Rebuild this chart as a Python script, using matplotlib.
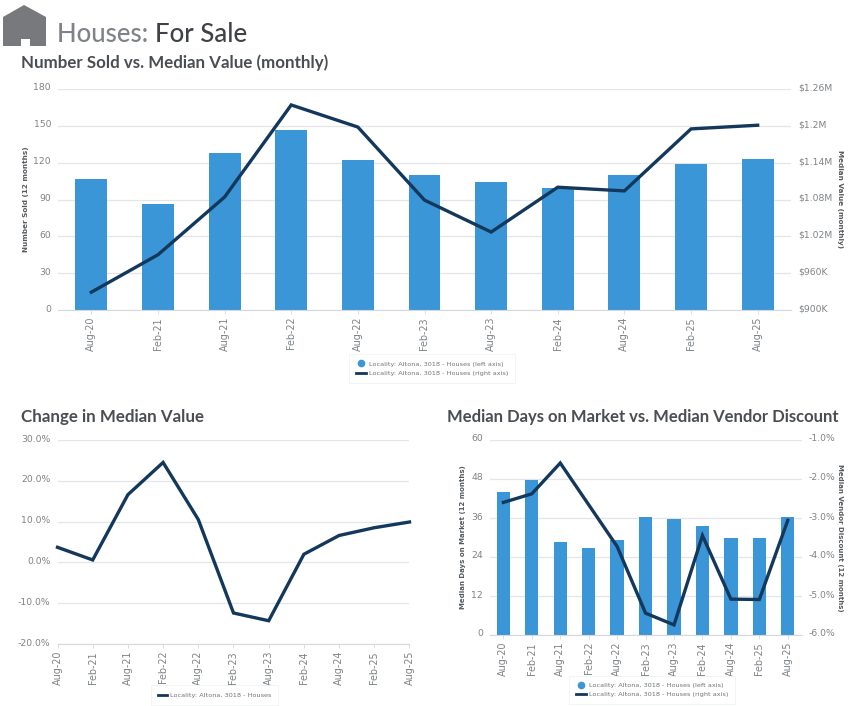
import matplotlib
matplotlib.use("Agg")
import matplotlib.pyplot as plt
from matplotlib.lines import Line2D
from matplotlib.patches import Polygon
from matplotlib.transforms import ScaledTranslation

W, H = 851, 706
BAR = "#3a96d6"
LINE = "#14385c"
GRID = "#e3e5e8"
TICK = "#7f8387"
TITLE = "#43474b"
AXT = "#55595d"

periods = ["Aug-20", "Feb-21", "Aug-21", "Feb-22", "Aug-22", "Feb-23", "Aug-23",
           "Feb-24", "Aug-24", "Feb-25", "Aug-25"]
number_sold = [107, 86, 128, 147, 122, 110, 104, 99, 110, 119, 123]
median_value_k = [929, 990, 1084, 1234, 1198, 1079, 1027, 1100, 1094, 1195, 1201]
change_pct = [3.7, 0.6, 16.6, 24.5, 10.5, -12.4, -14.3, 2.0, 6.6, 8.5, 9.9]
days_on_market = [44, 47.6, 28.7, 26.7, 29.3, 36.2, 35.7, 33.6, 30, 29.7, 36.2]
vendor_discount = [-2.6, -2.38, -1.59, -2.66, -3.73, -5.44, -5.74, -3.45, -5.08, -5.09, -3.06]

left_ticks_1 = [0, 30, 60, 90, 120, 150, 180]
right_ticks_1 = [900, 960, 1020, 1080, 1140, 1200, 1260]
right_labels_1 = ["$900K", "$960K", "$1.02M", "$1.08M", "$1.14M", "$1.2M", "$1.26M"]
ticks_2 = [-20, -10, 0, 10, 20, 30]
left_ticks_3 = [0, 12, 24, 36, 48, 60]
right_ticks_3 = [-6, -5, -4, -3, -2, -1]

LEG_BAR = "Locality: Altona, 3018 - Houses (left axis)"
LEG_LINE = "Locality: Altona, 3018 - Houses (right axis)"
LEG_ONE = "Locality: Altona, 3018 - Houses"

fig = plt.figure(figsize=(W / 100, H / 100), dpi=100, facecolor="white")
plt.rcParams["font.family"] = "DejaVu Sans"
RAISE = ScaledTranslation(0, 2 / 100, fig.dpi_scale_trans)
BOXES = {}


def axes_px(x0, y0, x1, y1):
    ax = fig.add_axes([x0 / W, 1 - y1 / H, (x1 - x0) / W, (y1 - y0) / H])
    BOXES[ax] = (x0, x1)
    return ax


def raise_labels(ax):
    for lab in ax.get_yticklabels():
        lab.set_transform(lab.get_transform() + RAISE)


def label_at(ax, px, box):
    x0, x1 = box
    ax.yaxis.set_label_coords((px - x0) / (x1 - x0), 0.5)


def style(ax, labelsize=6.9):
    ax.set_facecolor("none")
    for s in ax.spines.values():
        s.set_visible(False)
    ax.spines["bottom"].set_visible(True)
    ax.spines["bottom"].set_color("#d5d9de")
    ax.spines["bottom"].set_linewidth(0.8)
    ax.grid(axis="y", color=GRID, lw=0.9)
    ax.set_axisbelow(True)
    ax.tick_params(axis="y", length=0, colors=TICK, labelsize=6.7, pad=5)
    ax.tick_params(axis="x", length=3, width=0.6, color="#d5d9de", labelcolor=TICK,
                   labelsize=labelsize, labelrotation=90, pad=2)


def right_axis(ax, ticks, labels, lim, title, size, box):
    r = ax.twinx()
    r.set_ylim(*lim)
    r.set_yticks(ticks)
    r.set_yticklabels(labels)
    for s in r.spines.values():
        s.set_visible(False)
    r.tick_params(axis="y", length=0, colors=TICK, labelsize=6.7, pad=5)
    r.set_ylabel(title, rotation=270, fontsize=size, fontweight="bold", color=AXT, va="center")
    label_at(r, 840, box)
    raise_labels(r)
    return r


def box_legend(handles, labels, cx, cy):
    leg = fig.legend(handles, labels, loc="center", bbox_to_anchor=(cx / W, 1 - cy / H),
                     fontsize=4.65, labelcolor="#6f7377", frameon=True, fancybox=False,
                     edgecolor="#f1f2f3", facecolor="white", framealpha=1,
                     handlelength=1.5, handletextpad=0.45, labelspacing=0.55,
                     borderpad=1.05, borderaxespad=0)
    leg.get_frame().set_linewidth(0.6)
    return leg


h_bar = Line2D([], [], color=BAR, marker="o", ls="none", ms=4.5)
h_line = Line2D([], [], color=LINE, lw=2)

x = list(range(len(periods)))

# Top chart
box1 = (58, 791)
ax1 = axes_px(58, 89, 791, 310)
style(ax1)
ax1.bar(x, number_sold, width=0.48, color=BAR, zorder=2)
ax1.set_xlim(-0.5, 10.5)
ax1.set_ylim(0, 180)
ax1.set_yticks(left_ticks_1)
ax1.set_xticks(x)
ax1.set_xticklabels(periods)
ax1.set_ylabel("Number Sold (12 months)", fontsize=5.2, fontweight="bold", color=AXT, va="center")
label_at(ax1, 26, box1)
raise_labels(ax1)
r1 = right_axis(ax1, right_ticks_1, right_labels_1, (900, 1260), "Median Value (monthly)", 5.2, box1)
r1.plot(x, median_value_k, color=LINE, lw=2.4, solid_joinstyle="miter", zorder=3)
box_legend([h_bar, h_line], [LEG_BAR, LEG_LINE], 432, 368.5)

# Lower left chart
ax2 = axes_px(57.5, 440, 409.5, 644)
style(ax2)
ax2.plot(x, change_pct, color=LINE, lw=2.4, solid_joinstyle="miter", clip_on=False, zorder=3)
ax2.set_xlim(0, 10)
ax2.set_ylim(-20, 30)
ax2.set_yticks(ticks_2)
ax2.set_yticklabels([f"{t:.1f}%" for t in ticks_2])
ax2.set_xticks(x)
ax2.set_xticklabels(periods)
raise_labels(ax2)
box_legend([h_line], [LEG_ONE], 214.5, 695)

# Lower right chart
box3 = (490, 802)
ax3 = axes_px(490, 440, 802, 635)
style(ax3)
ax3.bar(x, days_on_market, width=0.47, color=BAR, zorder=2)
ax3.set_xlim(-0.47, 10.5)
ax3.set_ylim(0, 60)
ax3.set_yticks(left_ticks_3)
ax3.set_xticks(x)
ax3.set_xticklabels(periods)
ax3.set_ylabel("Median Days on Market (12 months)", fontsize=5.0, fontweight="bold", color=AXT, va="center")
label_at(ax3, 463, box3)
raise_labels(ax3)
r3 = right_axis(ax3, right_ticks_3, [f"{t:.1f}%" for t in right_ticks_3], (-6, -1),
                "Median Vendor Discount (12 months)", 5.0, box3)
r3.plot(x, vendor_discount, color=LINE, lw=2.4, solid_joinstyle="miter", zorder=3)
box_legend([h_bar, h_line], [LEG_BAR, LEG_LINE], 652, 690)

# Titles
TFONT = "Lato"
fig.text(21 / W, 1 - 68 / H, "Number Sold vs. Median Value (monthly)", fontsize=12.2,
         family=TFONT, fontweight="bold", color="#4a4e52", va="baseline")
fig.text(21 / W, 1 - 422 / H, "Change in Median Value", fontsize=12.2,
         family=TFONT, fontweight="bold", color="#4a4e52", va="baseline")
fig.text(447 / W, 1 - 422 / H, "Median Days on Market vs. Median Vendor Discount", fontsize=12.0,
         family=TFONT, fontweight="bold", color="#4a4e52", va="baseline")

fig.text(57 / W, 1 - 42 / H, "Houses: ", fontsize=18.5, family=TFONT, fontweight="medium",
         color="#7f8387", va="baseline")
fig.text(155 / W, 1 - 42 / H, "For Sale", fontsize=18.6, family=TFONT, fontweight="medium",
         color="#3f4347", va="baseline")

# House icon
icon = [(3, 17), (24, 5), (46, 17), (46, 46), (30, 46), (30, 39), (21, 39), (21, 46), (3, 46)]
fig.add_artist(Polygon([(px / W, 1 - py / H) for px, py in icon], closed=True,
                       transform=fig.transFigure, facecolor="#77797c", edgecolor="none"))

fig.savefig("out.png", dpi=100, facecolor="white")
